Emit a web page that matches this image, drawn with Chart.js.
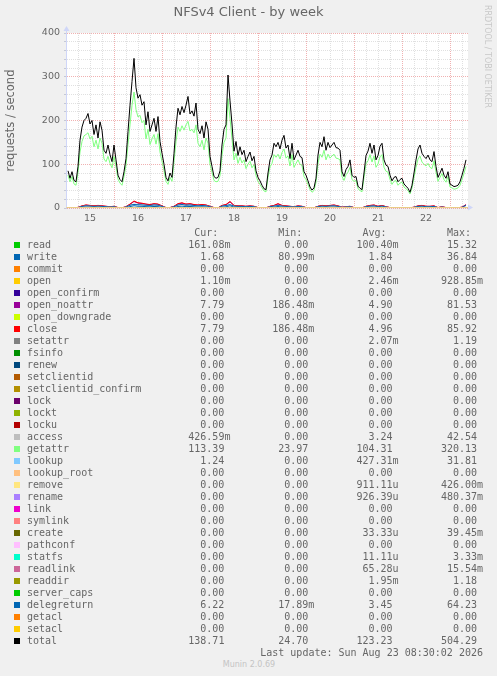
<!DOCTYPE html>
<html><head><meta charset="utf-8">
<script src="https://cdn.jsdelivr.net/npm/chart.js@4/dist/chart.umd.min.js"></script>
<style>
html,body{margin:0;padding:0;background:#F0F0F0;}
#wrap{position:relative;width:497px;height:676px;background:#F0F0F0;overflow:hidden;color:#666;}
#c{position:absolute;left:0;top:0;}
.t{position:absolute;white-space:pre;font-family:"DejaVu Sans Mono",monospace;font-size:10px;line-height:12px;color:#666;}
.sq{position:absolute;width:6px;height:6px;}
#title{position:absolute;left:0;top:4px;width:497px;text-align:center;font-family:"DejaVu Sans",sans-serif;font-size:13px;line-height:16px;color:#666;}
#rrd{position:absolute;left:483px;top:5px;writing-mode:vertical-rl;font-family:"DejaVu Sans",sans-serif;font-size:8px;line-height:9px;color:#c8c8c8;white-space:nowrap;}
#munin{position:absolute;left:0;top:660px;width:498px;text-align:center;font-family:"DejaVu Sans",sans-serif;font-size:8px;line-height:10px;color:#c4c4c4;}
</style></head><body>
<div id="wrap">
<canvas id="c" width="497" height="232"></canvas>
<div id="title">NFSv4 Client - by week</div>
<div id="rrd">RRDTOOL / TOBI OETIKER</div>
<div id="legend"></div>
<div id="munin">Munin 2.0.69</div>
</div>
<script>
// ---- categories (hours since Aug 15 00:00) ----
const hours = Array.from({length: 200}, (_, i) => i + 1);
const hours2 = Array.from({length: 100}, (_, i) => 2 * i + 2);
const dayLabels = ['15','16','17','18','19','20','21','22'];
const yTickLabels = ['0','100','200','300','400'];

// ---- series values (requests / second) ----
const totalValues = [
85,68,83,63,60,95,155,185,200,205,
216,192,200,168,190,160,197,178,132,125,
144,122,106,144,110,75,65,60,83,113,
175,235,289,342,275,251,259,235,243,190,
220,175,190,205,175,209,152,125,100,70,
62,80,70,125,185,228,213,232,218,235,
255,215,222,210,240,180,170,188,160,197,
180,118,95,72,68,70,85,144,180,190,
304,245,192,130,152,120,140,122,132,106,
118,128,108,118,85,70,62,52,44,42,
80,110,121,148,140,150,135,155,166,137,
144,113,148,110,121,132,118,115,83,75,
62,48,41,46,68,121,150,140,163,132,
150,138,144,150,138,137,132,83,72,88,
95,110,75,70,72,50,45,42,80,120,
130,148,125,144,110,120,141,148,110,98,
95,75,62,70,72,60,65,68,55,50,
45,36,52,80,110,135,144,125,118,113,
121,110,106,129,95,70,80,91,75,68,
83,55,52,49,50,52,60,75,91,110];

const getattrValues = [
75,60,72,55,52,82,128,152,165,168,
172,158,164,140,155,135,160,148,112,106,
118,102,92,118,95,66,57,52,72,98,
145,190,235,265,225,208,212,195,200,158,
180,145,158,168,146,170,128,106,86,61,
54,70,61,106,152,185,175,188,178,190,
198,176,180,172,190,148,140,155,133,160,
148,100,82,63,60,61,74,120,150,160,
250,205,158,110,125,102,116,103,110,90,
100,107,92,99,74,61,54,46,39,37,
70,94,102,122,116,123,112,127,135,114,
119,96,122,93,102,110,100,97,72,65,
54,42,36,40,59,102,123,116,132,110,
123,114,119,123,114,113,110,72,63,76,
82,93,65,61,63,44,40,37,70,101,
108,122,105,119,93,101,117,122,93,84,
82,65,54,61,63,52,57,59,48,44,
40,32,46,70,93,112,119,105,100,96,
102,93,90,108,82,61,70,79,65,59,
72,48,46,43,44,46,52,65,79,95];

const closeValues = [
0.5,0.3,1.5,5,7,6,5,6,5,4,
3,4,1,0.5,3,9,16,12,11,9,
8,10,9,5,1,1,4,10,12,9,
10,8,7,8,7,4,1,0.5,6,8,
15,6,5,5,4,5,4,1,0.5,0.3,
4,6,10,6,5,4,3,5,4,1,
0.5,0.5,4,6,5,6,7,5,2,3,
4,1,0.5,0.3,4,6,7,4,6,3,
1,1,0.5,1,0.5,0.3,2,5,6,4,
4,5,1,3,1,0.5,0.5,0.5,2,7];

const openNoattrValues = [
0.4,0.3,1.3,4.6,6.5,5.5,4.7,5.6,4.6,3.7,
2.8,3.7,0.9,0.4,2.8,8.4,14.8,11.2,10.2,8.5,
7.4,9.3,8.4,4.6,0.9,0.9,3.7,9.3,11.1,8.4,
9.3,7.4,6.5,7.4,6.5,3.7,0.9,0.4,5.6,7.4,
13.9,5.6,4.6,4.6,3.7,4.6,3.7,0.9,0.4,0.3,
3.7,5.6,9.3,5.6,4.6,3.7,2.8,4.6,3.7,0.9,
0.4,0.4,3.7,5.6,4.6,5.6,6.5,4.6,1.8,2.8,
3.7,0.9,0.4,0.3,3.7,5.6,6.5,3.7,5.6,2.8,
0.9,0.9,0.4,0.9,0.4,0.3,1.8,4.6,5.6,3.7,
3.7,4.6,0.9,2.8,0.9,0.4,0.4,0.4,1.8,7.8];

const accessValues = [
0.3,0.2,1,3.5,4.5,4,3.5,4,3.5,2.8,
2,2.5,0.6,0.3,2,6,9,8,7,6,
5.5,6.5,6,3.5,0.6,0.6,2.5,6.5,7.5,6,
6.5,5.5,5,5.5,5,2.8,0.6,0.3,4,5.5,
8,4,3.5,3.5,3,3.5,3,0.6,0.3,0.2,
2.8,4,6,4,3.5,3,2.2,3.5,3,0.6,
0.3,0.3,2.8,4,3.5,4,4.5,3.5,1.4,2,
2.8,0.6,0.3,0.2,2.8,4,4.5,2.8,4,2,
0.6,0.6,0.3,0.6,0.3,0.2,1.4,3.5,4,2.8,
2.8,3.5,0.6,2,0.6,0.3,0.3,0.3,1.4,0.4];

const delegreturnValues = [
0.3,0.2,1.1,3.6,5,4.4,3.6,4.3,3.7,2.9,
2.2,2.9,0.7,0.4,2.2,6.4,8,7.4,7,6.3,
5.8,7,6.4,3.6,0.7,0.7,2.9,7,8,6.4,
7,5.8,5,5.7,5,2.9,0.7,0.4,4.3,5.7,
7.5,4.3,3.6,3.7,2.9,3.7,2.9,0.7,0.4,0.2,
2.9,4.4,5.5,4.3,3.6,2.9,2.2,3.7,3,0.7,
0.4,0.4,3,4.4,3.7,4.6,5,3.6,1.5,2.2,
3,0.7,0.4,0.2,2.9,4.3,5,2.9,4.4,2.2,
0.7,0.7,0.4,0.7,0.4,0.2,1.5,3.6,4.3,2.9,
3,3.6,0.7,2.2,0.7,0.4,0.4,0.4,1.5,6.2];

const writeValues = [
0.2,0.1,0.5,1.8,2.4,2.1,1.8,2.2,1.8,1.4,
1.1,1.4,0.4,0.2,1.1,3.2,5.2,4,3.8,3.1,
2.8,3.5,3.1,1.8,0.4,0.4,1.4,3.5,4.2,3.1,
3.5,2.8,2.5,2.8,2.5,1.4,0.4,0.2,2.1,2.8,
5,2.1,1.8,1.8,1.4,1.8,1.4,0.4,0.2,0.1,
1.4,2.1,3.5,2.1,1.8,1.4,1.1,1.8,1.4,0.4,
0.2,0.2,1.4,2.1,1.8,2.1,2.5,1.8,0.7,1.1,
1.4,0.4,0.2,0.1,1.4,2.1,2.5,1.4,2.1,1.1,
0.4,0.4,0.2,0.4,0.2,0.1,0.7,1.8,2.1,1.4,
1.4,1.8,0.4,1.1,0.4,0.2,0.2,0.2,0.7,1.7];

// ---- legend table ----
const seriesNames = ['read','write','commit','open','open_confirm','open_noattr','open_downgrade','close','setattr','fsinfo','renew','setclientid','setclientid_confirm','lock','lockt','locku','access','getattr','lookup','lookup_root','remove','rename','link','symlink','create','pathconf','statfs','readlink','readdir','server_caps','delegreturn','getacl','setacl','total'];
const curValues = ['161.08m','1.68','0.00','1.10m','0.00','7.79','0.00','7.79','0.00','0.00','0.00','0.00','0.00','0.00','0.00','0.00','426.59m','113.39','1.24','0.00','0.00','0.00','0.00','0.00','0.00','0.00','0.00','0.00','0.00','0.00','6.22','0.00','0.00','138.71'];
const minValues = ['0.00','80.99m','0.00','0.00','0.00','186.48m','0.00','186.48m','0.00','0.00','0.00','0.00','0.00','0.00','0.00','0.00','0.00','23.97','0.00','0.00','0.00','0.00','0.00','0.00','0.00','0.00','0.00','0.00','0.00','0.00','17.89m','0.00','0.00','24.70'];
const avgValues = ['100.40m','1.84','0.00','2.46m','0.00','4.90','0.00','4.96','2.07m','0.00','0.00','0.00','0.00','0.00','0.00','0.00','3.24','104.31','427.31m','0.00','911.11u','926.39u','0.00','0.00','33.33u','0.00','11.11u','65.28u','1.95m','0.00','3.45','0.00','0.00','123.23'];
const maxValues = ['15.32','36.84','0.00','928.85m','0.00','81.53','0.00','85.92','1.19','0.00','0.00','0.00','0.00','0.00','0.00','0.00','42.54','320.13','31.81','0.00','426.00m','480.37m','0.00','0.00','39.45m','0.00','3.33m','15.54m','1.18','0.00','64.23','0.00','0.00','504.29'];
const lastUpdate = 'Last update: Sun Aug 23 08:30:02 2026';

// ---- styles ----
const seriesColors = ['#00CC00','#0066B3','#FF8000','#FFCC00','#330099','#990099','#CCFF00','#FF0000','#808080','#008F00','#00487D','#B35A00','#B38F00','#6B006B','#8FB300','#B30000','#BEBEBE','#80FF80','#80C9FF','#FFC080','#FFE680','#AA80FF','#EE00CC','#FF8080','#666600','#FFBFFF','#00FFCC','#CC6699','#999900','#00CC00','#0066B3','#FF8000','#FFCC00','#000000'];

// Build legend
(function(){
  const L = document.getElementById('legend');
  let html = '';
  const colRight = [224.4, 308.3, 392.5, 477];
  const heads = ['Cur:','Min:','Avg:','Max:'];
  heads.forEach((h, k) => {
    html += `<div class="t" style="right:${497 - (colRight[k] - 6)}px;top:226.5px">${h}</div>`;
  });
  const cols = [curValues, minValues, avgValues, maxValues];
  seriesNames.forEach((n, i) => {
    const top = 238.5 + 12 * i;
    html += `<div class="sq" style="left:14px;top:${242 + 12 * i}px;background:${seriesColors[i]}"></div>`;
    html += `<div class="t" style="left:27px;top:${top}px">${n}</div>`;
    cols.forEach((arr, k) => {
      const v = arr[i];
      const m = v.match(/^([\d.]+)([a-z]?)$/);
      html += `<div class="t" style="right:${497 - colRight[k]}px;top:${top}px">${m[1]}</div>`;
      if (m[2]) html += `<div class="t" style="left:${colRight[k]}px;top:${top}px">${m[2]}</div>`;
    });
  });
  html += `<div class="t" style="right:14px;top:646.5px">${lastUpdate}</div>`;
  L.innerHTML = html;
})();

const pts = (xs, ys) => ys.map((v, i) => ({x: xs[i], y: v}));
const idx = n => seriesNames.indexOf(n);
function ds(name, xs, ys) {
  const i = idx(name);
  return {label: name, data: pts(xs, ys), borderColor: seriesColors[i], borderWidth: 1,
          pointRadius: 0, tension: 0, fill: false, order: 100 - i};
}

const frame = {
  id: 'frame',
  beforeDraw(chart) {
    const {ctx, chartArea: a} = chart;
    ctx.save();
    ctx.fillStyle = '#FFFFFF';
    ctx.fillRect(a.left, a.top, a.right - a.left, a.bottom - a.top);
    ctx.restore();
  },
  afterDatasetsDraw(chart) {
    const {ctx, chartArea: a} = chart;
    ctx.save();
    ctx.strokeStyle = '#CFD6F8';
    ctx.fillStyle = '#CFD6F8';
    ctx.lineWidth = 1;
    ctx.beginPath();
    ctx.moveTo(a.left - 0.5, a.bottom + 0.5);
    ctx.lineTo(a.left - 0.5, a.top - 4);
    ctx.stroke();
    ctx.beginPath();
    ctx.moveTo(a.left - 3.5, a.top - 2);
    ctx.lineTo(a.left + 2.5, a.top - 2);
    ctx.lineTo(a.left - 0.5, a.top - 7);
    ctx.closePath(); ctx.fill();
    ctx.strokeStyle = '#EBCB85';
    ctx.beginPath();
    ctx.moveTo(a.left - 0.5, a.bottom - 0.5);
    ctx.lineTo(a.right, a.bottom - 0.5);
    ctx.stroke();
    ctx.fillStyle = '#CFD6F8';
    ctx.beginPath();
    ctx.moveTo(a.right, a.bottom - 3.5);
    ctx.lineTo(a.right, a.bottom + 2.5);
    ctx.lineTo(a.right + 5, a.bottom - 0.5);
    ctx.closePath(); ctx.fill();
    ctx.restore();
  }
};

const minorGrid = 'rgba(160,160,160,0.33)';
const majorGrid = 'rgba(225,100,100,0.5)';
const tickFont = {family: 'DejaVu Sans', size: 9.5};

new Chart(document.getElementById('c'), {
  type: 'line',
  data: {
    datasets: [
      ds('write', hours2, writeValues),
      ds('open_noattr', hours2, openNoattrValues),
      ds('close', hours2, closeValues),
      ds('access', hours2, accessValues),
      ds('getattr', hours, getattrValues),
      ds('delegreturn', hours2, delegreturnValues),
      ds('total', hours, totalValues)
    ]
  },
  options: {
    responsive: false,
    animation: false,
    devicePixelRatio: 1,
    layout: {padding: {left: 0, top: 33, right: 29, bottom: 0}},
    plugins: {legend: {display: false}, tooltip: {enabled: false}, title: {display: false}},
    elements: {line: {borderJoinStyle: 'round'}},
    scales: {
      x: {
        type: 'linear', min: 0.5, max: 201,
        afterFit(s) { s.height = 24; },
        grid: {
          color: c => (c.tick && c.tick.value % 24 === 0) ? majorGrid : minorGrid,
          lineWidth: 1, drawTicks: false
        },
        border: {display: false, dash: [1, 1]},
        ticks: {
          stepSize: 6, includeBounds: false, autoSkip: false, maxRotation: 0, minRotation: 0,
          padding: 5, color: '#666', font: tickFont,
          callback: v => (v % 24 === 12) ? dayLabels[(v - 12) / 24] : ''
        }
      },
      y: {
        type: 'linear', min: 0, max: 400,
        afterFit(s) { s.width = 67; },
        grid: {
          color: c => (c.tick && c.tick.value % 100 === 0) ? majorGrid : minorGrid,
          lineWidth: 1, drawTicks: true, tickLength: 3, tickColor: '#C4C8D6'
        },
        border: {display: false, dash: [1, 1]},
        ticks: {
          stepSize: 20, autoSkip: false, padding: 4, color: '#666', font: tickFont,
          callback: v => (v % 100 === 0) ? yTickLabels[v / 100] : ''
        },
        title: {display: true, text: 'requests / second', color: '#666',
                font: {family: 'DejaVu Sans', size: 11.5}}
      }
    }
  },
  plugins: [frame]
});
</script>
</body></html>
